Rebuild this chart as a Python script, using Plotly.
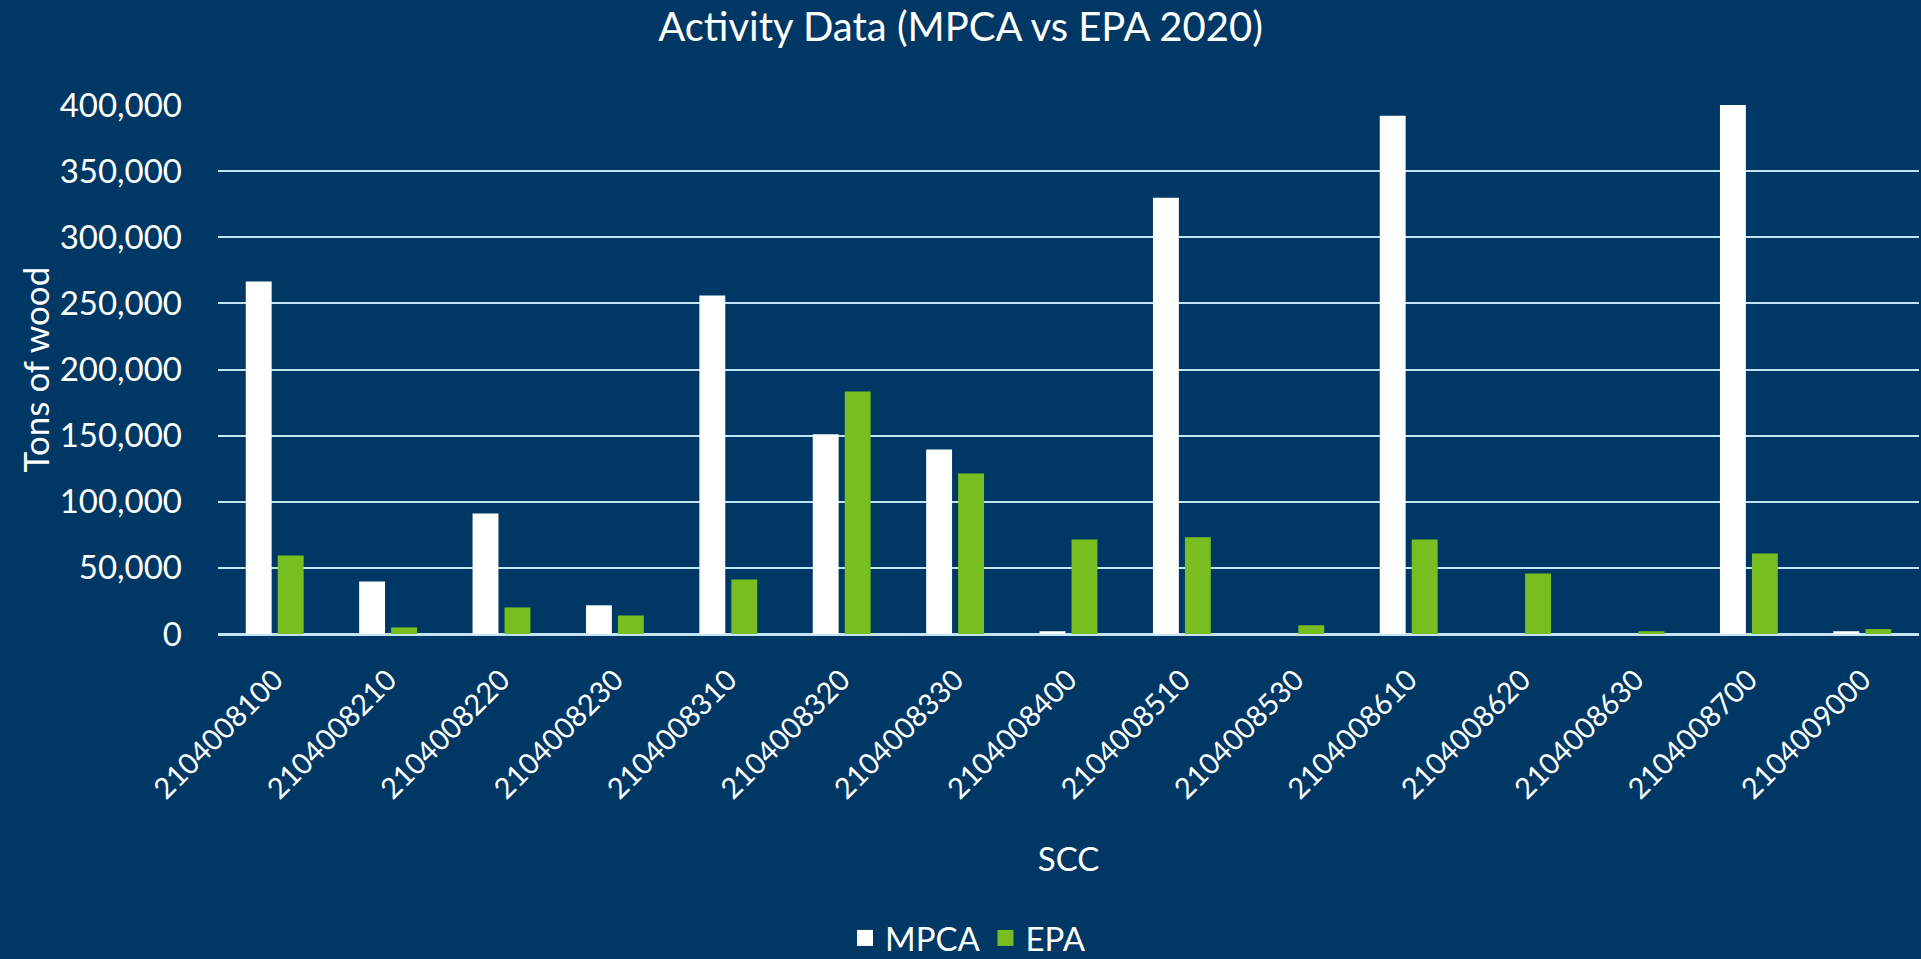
import plotly.graph_objects as go

categories = ["2104008100", "2104008210", "2104008220", "2104008230", "2104008310",
              "2104008320", "2104008330", "2104008400", "2104008510", "2104008530",
              "2104008610", "2104008620", "2104008630", "2104008700", "2104009000"]
mpca = [266500, 39700, 91100, 21700, 255900, 151000, 139600, 2100, 329800, 0,
        391800, 0, 0, 401000, 2100]
epa = [59300, 5000, 20100, 14000, 41300, 183300, 121300, 71500, 73100, 6600,
       71500, 45800, 2100, 60900, 3700]
y_ticks = list(range(0, 400001, 50000))

BG = "#003865"
GREEN = "#78BE21"
GRID = "#C3E3F7"
FONT = "Lato"

fig = go.Figure()
fig.add_trace(go.Bar(name="MPCA", x=categories, y=mpca, marker_color="#FFFFFF",
                     marker_line_width=0, showlegend=False))
fig.add_trace(go.Bar(name="EPA", x=categories, y=epa, marker_color=GREEN,
                     marker_line_width=0, showlegend=False))
# legend entries with larger square swatches
fig.add_trace(go.Scatter(name="MPCA", x=[None], y=[None], mode="markers",
                         marker=dict(symbol="square", size=19, color="#FFFFFF"),
                         showlegend=True))
fig.add_trace(go.Scatter(name="EPA", x=[None], y=[None], mode="markers",
                         marker=dict(symbol="square", size=19, color=GREEN),
                         showlegend=True))

fig.update_layout(
    width=1921, height=959,
    paper_bgcolor=BG, plot_bgcolor=BG,
    font=dict(family=FONT, color="white", size=33),
    margin=dict(l=218, r=2, t=105, b=325, autoexpand=False),
    barmode="group", bargap=0.436, bargroupgap=0.19,
    title=dict(text="Activity Data (MPCA vs EPA 2020)", x=0.5, xref="container",
               xanchor="center", y=1 - 27 / 959, yref="container", yanchor="middle",
               font=dict(size=40, color="white", family=FONT)),
    legend=dict(orientation="h", x=968 / 1921, xref="container", xanchor="center",
                y=1 - 938 / 959, yref="container", yanchor="middle",
                font=dict(size=33, color="white"), bgcolor="rgba(0,0,0,0)",
                itemwidth=30, traceorder="normal"),
    showlegend=True,
    annotations=[dict(text="Tons of wood", textangle=-90, x=0, xref="paper",
                      xanchor="center", xshift=34 - 218, y=0.5, yref="paper",
                      yanchor="middle", showarrow=False,
                      font=dict(size=35, color="white", family=FONT))],
)
fig.update_xaxes(
    type="category", tickangle=-45, ticks="", showgrid=False, showline=False,
    zeroline=False, ticklabelstandoff=22, automargin=False,
    tickfont=dict(size=29, color="white", family=FONT),
    title=dict(text="SCC", font=dict(size=33, color="white", family=FONT), standoff=43),
)
fig.update_yaxes(
    range=[0, 400000], tickvals=y_ticks, tickformat=",", showgrid=True,
    gridcolor=GRID, gridwidth=2, zeroline=True, zerolinecolor=GRID, zerolinewidth=3,
    showline=False, ticks="", automargin=False, ticklabelstandoff=35,
    tickfont=dict(size=33, color="white", family=FONT),
)

fig.write_html("out.html", config={"displayModeBar": False},
               post_script="document.body.style.margin='0';document.body.style.overflow='hidden';")
